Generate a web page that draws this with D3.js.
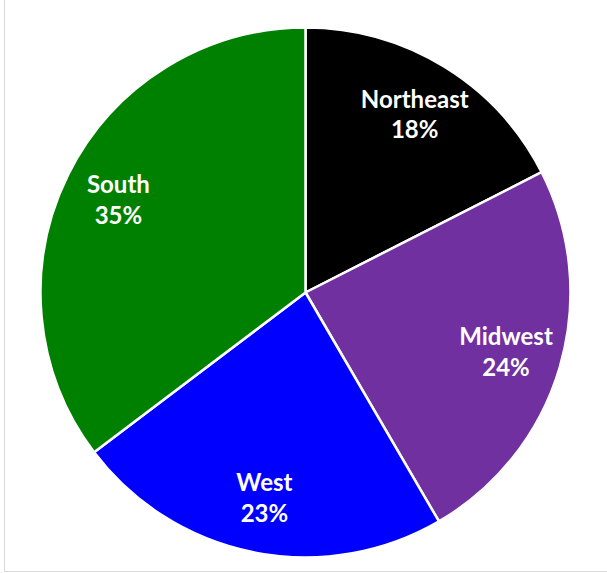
<!DOCTYPE html>
<html>
<head>
<meta charset="utf-8">
<script src="https://cdn.jsdelivr.net/npm/d3@7"></script>
<style>
  body { margin: 0; background: #fff; }
  svg { display: block; }
</style>
</head>
<body>
<div id="chart"></div>
<script>
var regions = ["Northeast", "Midwest", "West", "South"];
var shares = [17.5, 24.1, 23.1, 35.3];
var colors = ["#000000", "#7030A0", "#0000FF", "#008000"];

var width = 607, height = 573;
var cx = 305.5, cy = 292.5, radius = 265;

var svg = d3.select("#chart").append("svg")
    .attr("width", width)
    .attr("height", height);

// light frame (left + bottom visible)
svg.append("rect")
    .attr("x", 4.5)
    .attr("y", -5)
    .attr("width", 620)
    .attr("height", 576.5)
    .attr("fill", "none")
    .attr("stroke", "#d9d9d9")
    .attr("stroke-width", 1);

var g = svg.append("g")
    .attr("transform", "translate(" + cx + "," + cy + ")");

var pie = d3.pie().sort(null).value(function(d){ return d; });
var arcs = pie(shares);

var arc = d3.arc().innerRadius(0).outerRadius(radius);
var labelArc = d3.arc().innerRadius(209).outerRadius(209);

g.selectAll("path.slice")
    .data(arcs)
    .enter().append("path")
    .attr("class", "slice")
    .attr("d", arc)
    .attr("fill", function(d, i){ return colors[i]; })
    .attr("stroke", "#fff")
    .attr("stroke-width", 2.5)
    .attr("stroke-linejoin", "round");

var labels = g.selectAll("text.lbl")
    .data(arcs)
    .enter().append("text")
    .attr("class", "lbl")
    .attr("transform", function(d){ return "translate(" + labelArc.centroid(d) + ")"; })
    .attr("text-anchor", "middle")
    .attr("fill", "#fff")
    .attr("font-family", "Lato, 'Open Sans', sans-serif")
    .attr("font-weight", "bold")
    .attr("font-size", "24px");

labels.append("tspan")
    .attr("x", 0)
    .attr("dy", -6.5)
    .text(function(d, i){ return regions[i]; });

labels.append("tspan")
    .attr("x", 0)
    .attr("dy", 30.7)
    .text(function(d){ return Math.round(d.data) + "%"; });
</script>
</body>
</html>
